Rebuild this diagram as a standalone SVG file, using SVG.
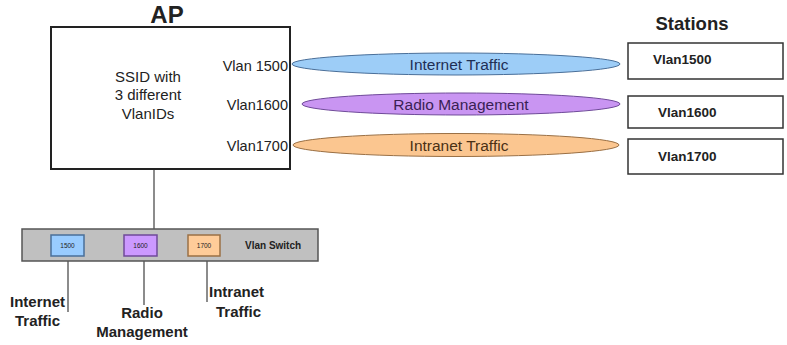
<svg xmlns="http://www.w3.org/2000/svg" width="787" height="345" viewBox="0 0 787 345">
<style>
text{font-family:"Liberation Sans",Arial,sans-serif;fill:#222}
.b{font-weight:bold}
.box{fill:#fff;stroke:#222;stroke-width:2}
.sta{fill:#fff;stroke:#333;stroke-width:1.5}
.ln{stroke:#666;stroke-width:1.5;fill:none}
.m{text-anchor:middle}
</style>
<rect width="787" height="345" fill="#fff"/>
<g id="connectors">
<line class="ln" x1="154" y1="169" x2="154" y2="229"/>
<line class="ln" x1="68" y1="256" x2="68" y2="312"/>
<line class="ln" x1="144" y1="256" x2="144" y2="305"/>
<line class="ln" x1="207" y1="256" x2="207" y2="302"/>
</g>
<g id="ap">
<text class="b m" x="167" y="23" font-size="24">AP</text>
<rect class="box" x="51" y="27" width="239" height="142"/>
<text class="m" x="148" y="82" font-size="15" fill="#333">SSID with</text>
<text class="m" x="148" y="100" font-size="15" fill="#333">3 different</text>
<text class="m" x="148" y="119" font-size="15" fill="#333">VlanIDs</text>
<text x="288" y="71" font-size="14.5" text-anchor="end">Vlan 1500</text>
<text x="288" y="110" font-size="14.5" text-anchor="end">Vlan1600</text>
<text x="288" y="151" font-size="14.5" text-anchor="end">Vlan1700</text>
</g>
<g id="ell-internet">
<ellipse cx="456" cy="64" rx="164" ry="11" fill="#9dcdf7" stroke="#4a6f99" stroke-width="1"/>
<text class="m" x="459" y="69.5" font-size="15.5" style="fill:#1f2f55">Internet Traffic</text>
</g>
<g id="ell-radio">
<ellipse cx="461" cy="104" rx="159" ry="11" fill="#c995f2" stroke="#6f4a99" stroke-width="1"/>
<text class="m" x="461" y="109.5" font-size="15.5" style="fill:#3a1f55">Radio Management</text>
</g>
<g id="ell-intranet">
<ellipse cx="456" cy="145" rx="163" ry="11.5" fill="#fbc690" stroke="#9a7045" stroke-width="1"/>
<text class="m" x="459" y="150.5" font-size="15.5" style="fill:#4a3015">Intranet Traffic</text>
</g>
<g id="stations">
<text class="b m" x="692" y="30" font-size="18.5">Stations</text>
</g>
<g id="sta1500">
<rect class="sta" x="628" y="43" width="155" height="36"/>
<text class="b" x="653" y="64" font-size="13.5">Vlan1500</text>
</g>
<g id="sta1600">
<rect class="sta" x="628" y="96" width="155" height="32"/>
<text class="b" x="658" y="117" font-size="13.5">Vlan1600</text>
</g>
<g id="sta1700">
<rect class="sta" x="628" y="139" width="155" height="35"/>
<text class="b" x="658" y="161" font-size="13.5">Vlan1700</text>
</g>
<g id="switch">
<rect x="22" y="229" width="296" height="32" fill="#c0c0c0" stroke="#555" stroke-width="1.5"/>
<text class="b" x="245" y="248.5" font-size="10">Vlan Switch</text>
</g>
<g id="port1500">
<rect x="51" y="235" width="33" height="21" fill="#99ccff" stroke="#4a6f99" stroke-width="1.5"/>
<text class="m" x="67.5" y="248" font-size="6.5">1500</text>
</g>
<g id="port1600">
<rect x="124" y="235" width="33" height="21" fill="#cc99ff" stroke="#6f4a99" stroke-width="1.5"/>
<text class="m" x="140.5" y="248" font-size="6.5">1600</text>
</g>
<g id="port1700">
<rect x="188" y="235" width="32" height="21" fill="#ffcc99" stroke="#9a7045" stroke-width="1.5"/>
<text class="m" x="204" y="248" font-size="6.5">1700</text>
</g>
<g id="lbl-internet">
<text class="b" x="10" y="307" font-size="15">Internet</text>
<text class="b" x="15" y="326" font-size="15">Traffic</text>
</g>
<g id="lbl-radio">
<text class="b m" x="142" y="318" font-size="15">Radio</text>
<text class="b m" x="142" y="337" font-size="15">Management</text>
</g>
<g id="lbl-intranet">
<text class="b" x="209" y="297" font-size="15">Intranet</text>
<text class="b" x="216" y="317" font-size="15">Traffic</text>
</g>
</svg>
